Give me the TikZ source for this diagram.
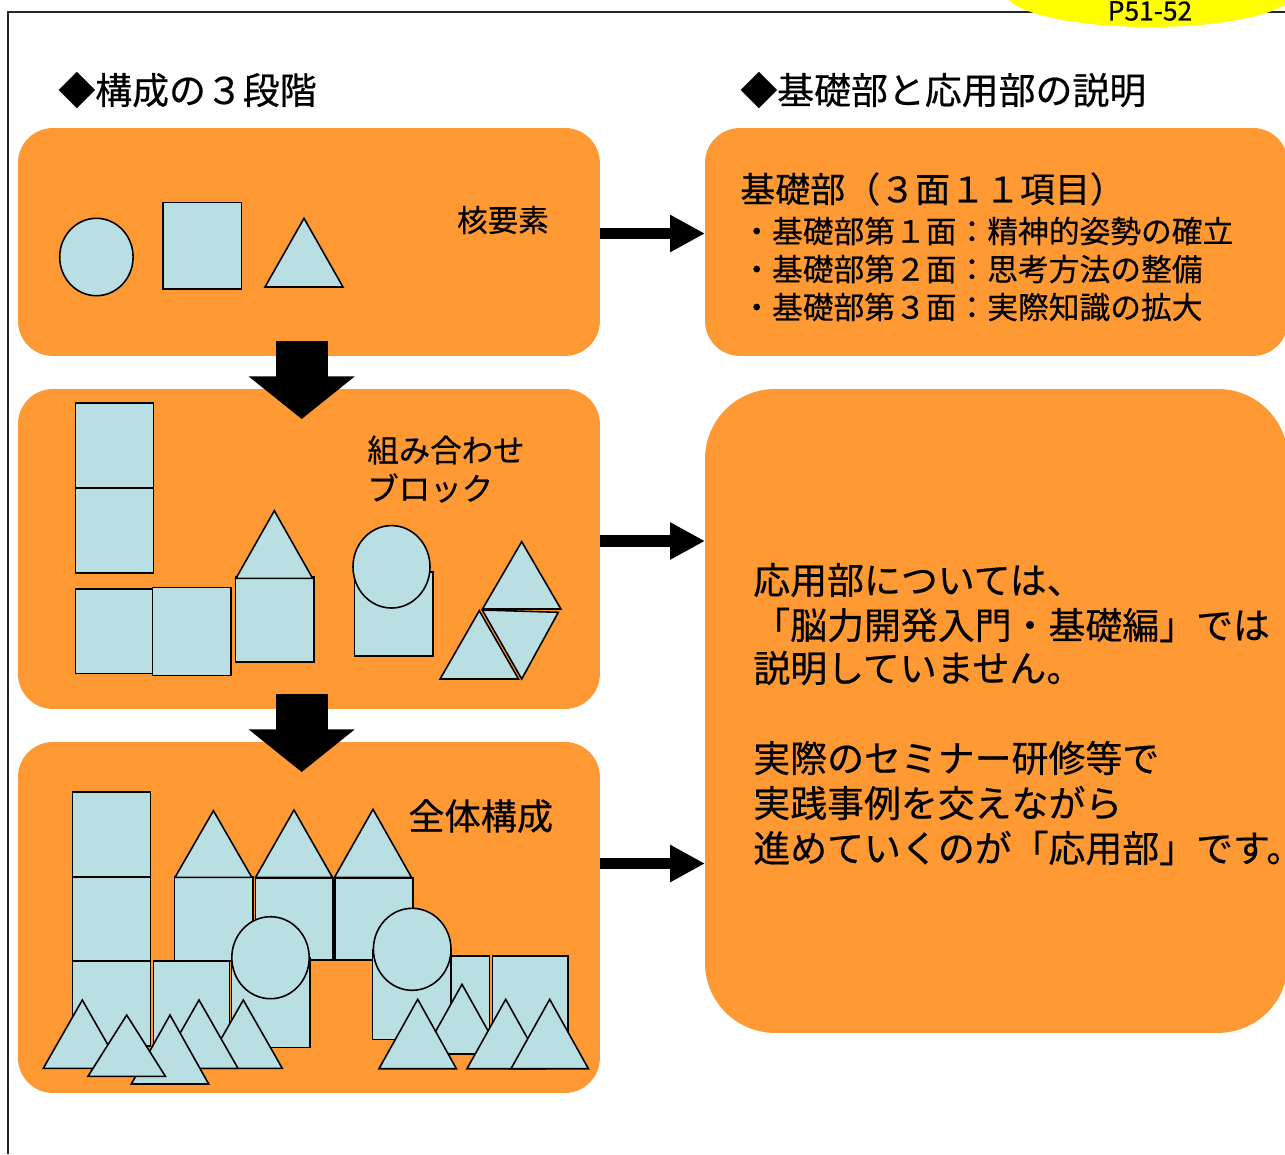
\documentclass[tikz,border=0pt]{standalone}
\usepackage{fontspec}
\setmainfont{Noto Sans CJK JP}[FakeBold=0.5]
\usetikzlibrary{arrows.meta,calc}

\definecolor{panelorange}{RGB}{255,153,51}
\definecolor{blockblue}{RGB}{186,223,226}
\definecolor{tagyellow}{RGB}{255,255,0}

% triangle: apex x, apex y, half base width, height (y grows downwards)
\newcommand\blktri[4]{\filldraw[blk] (#1,#2) -- ++(#3,#4) -- ++(-2*#3,0) -- cycle;}
\newcommand\blkrect[4]{\filldraw[blk] (#1,#2) rectangle (#3,#4);}
\newcommand\blkoval[4]{\filldraw[blk] (#1,#2) ellipse [x radius=#3, y radius=#4];}

\begin{document}
\begin{tikzpicture}[x=0.02cm, y=-0.02cm,
  panel/.style={fill=panelorange, draw=none, inner sep=0pt, outer sep=0pt,
                anchor=north west, rounded corners=0.7cm},
  blk/.style={fill=blockblue, draw=black, line width=0.9pt},
  rightarrow/.style={line width=6.6pt, -{Triangle[length=19.8pt,width=19.8pt]}},
  downarrow/.style={line width=29.6pt, -{Triangle[length=24.2pt,width=59pt]}},
  lbl/.style={inner sep=0pt, anchor=west}]

\useasboundingbox (0,0) rectangle (1285,1154);
\clip (0,0) rectangle (1285,1154);

% page frame and page tag
\draw[line width=0.8pt, black!85] (8,1154) -- (8,12) -- (1285,12);
\fill[tagyellow] (1150,-8) ellipse [x radius=145, y radius=35];
\node[inner sep=0pt] (tag) at (1150,11) {\fontsize{15pt}{17pt}\selectfont P51-52};

% section headings
\node[lbl] (hl) at (58,90) {\fontsize{21pt}{25pt}\selectfont ◆構成の３段階};
\node[lbl] (hr) at (740,90) {\fontsize{21pt}{25pt}\selectfont ◆基礎部と応用部の説明};

% panels
\node[panel, minimum width=11.64cm, minimum height=4.56cm] (p1) at (18,128) {};
\node[panel, minimum width=11.64cm, minimum height=6.40cm] (p2) at (18,389) {};
\node[panel, minimum width=11.64cm, minimum height=7.02cm] (p3) at (18,742) {};
\node[panel, minimum width=11.66cm, minimum height=4.56cm] (q1) at (705,128) {};
\node[panel, minimum width=11.66cm, minimum height=12.88cm, rounded corners=1.4cm] (q2) at (705,389) {};

% stage 1: basic elements
\blkoval{96.4}{257}{36.7}{38.7}
\blkrect{163}{202.7}{241.5}{288.7}
\blktri{304}{218.3}{39}{68.7}
\node[inner sep=0pt] (t1) at (503,220) {\fontsize{17.4pt}{20pt}\selectfont 核要素};

% stage 2: combined blocks
\blkrect{75.5}{402.7}{153.4}{487.7}
\blkrect{75.5}{487.7}{153.4}{572.7}
\blkrect{75.5}{588.7}{153}{673.3}
\blkrect{152.6}{587.3}{231.2}{675.3}
\blkrect{235.6}{577}{314.2}{662}
\blktri{274.3}{510.7}{38.3}{67.6}
\blkrect{354.5}{571.7}{432.8}{656}
\blkoval{391.5}{566.8}{38.5}{41.2}
\blktri{521.7}{541.7}{39.2}{67.3}
\filldraw[blk] (482.3,610) -- (558.3,612.3) -- (521.7,679) -- cycle;
\blktri{479.3}{610.7}{39.2}{68.3}
\node[lbl] (t2a) at (367,450) {\fontsize{17.9pt}{20pt}\selectfont 組み合わせ};
\node[lbl] (t2b) at (367,488) {\fontsize{17.9pt}{20pt}\selectfont ブロック};

% stage 3: whole structure
\blkrect{72.5}{791.7}{150.6}{876.7}
\blkrect{72.5}{876.7}{150.6}{961}
\blkrect{72.5}{961}{150.6}{1046}
\blkrect{174.3}{877}{253}{961}
\blkrect{255.3}{878}{333.2}{960}
\blkrect{334.8}{878}{413}{960}
\blktri{213.4}{810.7}{38.4}{66.6}
\blktri{294}{810}{38.4}{67.3}
\blktri{373}{809.3}{38.5}{68}
\blkrect{153.3}{961}{229.3}{1046}
\blkrect{231.7}{958}{310}{1047.3}
\blkoval{270.5}{957.7}{38.7}{41}
\blkrect{430}{956}{489.3}{1052.3}
\blkrect{492.3}{956}{568}{1046}
\blkrect{372.7}{950}{451}{1039.3}
\blkoval{412.2}{949.3}{38.8}{41}
\blktri{243.3}{1000}{39}{68.3}
\blktri{199}{1000}{39}{68.3}
\blktri{170}{1015}{38.7}{69}
\blktri{82.3}{1000}{39}{68.3}
\blktri{126.7}{1015}{38.7}{61.3}
\blktri{462}{984.3}{39}{69.7}
\blktri{417.7}{999.3}{38.7}{69.4}
\blktri{505.7}{999.3}{38.7}{69.4}
\blktri{549.7}{999.3}{38.7}{69.4}
\node[lbl] (t3) at (408,816) {\fontsize{20.6pt}{24pt}\selectfont 全体構成};

% basic part
\node[lbl] (b0) at (740,189) {\fontsize{19.9pt}{23pt}\selectfont 基礎部（３面１１項目）};
\node[lbl] (b1) at (741,231) {\fontsize{17.5pt}{20pt}\selectfont ・基礎部第１面：精神的姿勢の確立};
\node[lbl] (b2) at (741,269) {\fontsize{17.5pt}{20pt}\selectfont ・基礎部第２面：思考方法の整備};
\node[lbl] (b3) at (741,307) {\fontsize{17.5pt}{20pt}\selectfont ・基礎部第３面：実際知識の拡大};

% applied part
\node[lbl] (a1) at (753,580) {\fontsize{21pt}{25pt}\selectfont 応用部については、};
\node[lbl] (a2) at (753,625) {\fontsize{21pt}{25pt}\selectfont 「脳力開発入門・基礎編」では};
\node[lbl] (a3) at (753,668) {\fontsize{21pt}{25pt}\selectfont 説明していません。};
\node[lbl] (a4) at (753,758) {\fontsize{21pt}{25pt}\selectfont 実際のセミナー研修等で};
\node[lbl] (a5) at (753,803) {\fontsize{21pt}{25pt}\selectfont 実践事例を交えながら};
\node[lbl] (a6) at (753,848) {\fontsize{21pt}{25pt}\selectfont 進めていくのが「応用部」です。};

% block arrows between stages
\coordinate (d1s) at ($(p1.south west)+(283.7,-15)$);
\coordinate (d1e) at ($(p2.north west)+(283.7,30)$);
\coordinate (d2s) at ($(p2.south west)+(283.7,-15)$);
\coordinate (d2e) at ($(p3.north west)+(283.7,30)$);
\draw[downarrow] (d1s) -- (d1e);
\draw[downarrow] (d2s) -- (d2e);

% arrows towards the explanations
\coordinate (r1s) at ($(p1.north east)+(0,105.5)$);
\coordinate (r2s) at ($(p2.north east)+(0,152)$);
\coordinate (r3s) at ($(p3.north east)+(0,121.5)$);
\draw[rightarrow] (r1s) -- (r1s -| q1.west);
\draw[rightarrow] (r2s) -- (r2s -| q2.west);
\draw[rightarrow] (r3s) -- (r3s -| q2.west);
\end{tikzpicture}
\end{document}
